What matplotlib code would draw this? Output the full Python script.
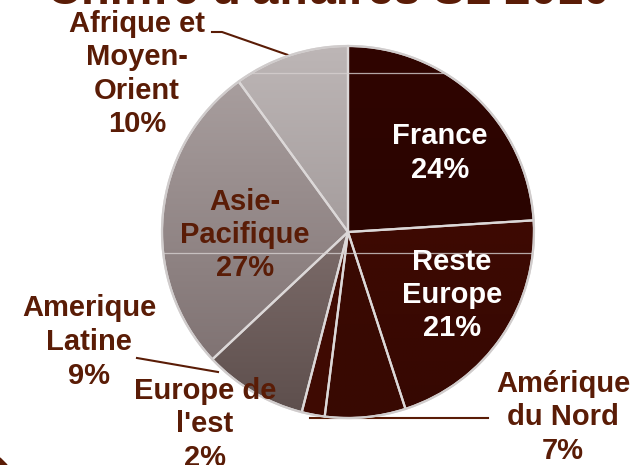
import numpy as np
import matplotlib
matplotlib.use("Agg")
import matplotlib.pyplot as plt
from matplotlib.colors import to_rgb

plt.rcParams['font.family'] = ['Liberation Sans', 'DejaVu Sans']

# Données : répartition du chiffre d'affaires par zone
zones = ["France", "Reste\nEurope", "Amérique\ndu Nord", "Europe de\nl'est",
         "Amerique\nLatine", "Asie-\nPacifique", "Afrique et\nMoyen-\nOrient"]
parts = [24, 21, 7, 2, 9, 27, 10]
titre = "Chiffre d'affaires S1 2010"

# couleurs (haut, bas) pour le dégradé vertical de chaque part
couleurs = [("#300500", "#2a0400"), ("#3e0a02", "#360802"), ("#3a0a02", "#380902"),
            ("#420c03", "#3e0a02"), ("#7c6c6a", "#5e4f4d"), ("#a89e9e", "#807373"),
            ("#bdb6b6", "#a59d9d")]
brun = "#5a1c06"

W, H = 635, 465
fig = plt.figure(figsize=(W / 100, H / 100), dpi=100)
ax = fig.add_axes([0, 0, 1, 1])

cx, cy, r = 348, H - 232, 186
wedges, _ = ax.pie(parts, startangle=90, counterclock=False, center=(cx, cy), radius=r,
                   frame=True,
                   wedgeprops=dict(edgecolor="#dcd8d8", linewidth=1.6))

# dégradé vertical dans chaque part
for w, (haut, bas) in zip(wedges, couleurs):
    ext = w.get_path().get_extents()
    t = np.linspace(0, 1, 128)[:, None, None]
    img = (1 - t) * np.array(to_rgb(haut)) + t * np.array(to_rgb(bas))
    im = ax.imshow(img, extent=(ext.x0, ext.x1, ext.y0, ext.y1), origin='upper',
                   aspect='auto', zorder=w.get_zorder(), interpolation='bilinear')
    im.set_clip_path(w)
    w.set_zorder(w.get_zorder() + 0.1)
    w.set_facecolor('none')

# bord extérieur gris clair
cercle = plt.Circle((cx, cy), r, fill=False, edgecolor="#d0cccc", linewidth=1.5, zorder=3)
ax.add_patch(cercle)

# traits clairs horizontaux visibles sur le disque
for yy in (H - 73, H - 253):
    ln, = ax.plot([cx - r, cx + r], [yy, yy], color="#d6d0d0", linewidth=0.9,
                  alpha=0.8, zorder=2.5)
    ln.set_clip_path(cercle)

# étiquettes
fs = 21
props = dict(fontsize=fs, fontweight='bold', ha='center', va='center', linespacing=1.25)
ax.text(440, H - 153, "France\n24%", color='white', **props)
ax.text(452, H - 295, "Reste\nEurope\n21%", color='white', **props)
ax.text(245, H - 235, "Asie-\nPacifique\n27%", color=brun, **props)
ax.text(137, H - 74, "Afrique et\nMoyen-\nOrient\n10%", color=brun, **props)
ax.text(89, H - 342, "Amerique\nLatine\n9%", color=brun, **props)
ax.text(205, H - 424, "Europe de\nl'est\n2%", color=brun, **props)
ax.text(563, H - 417, "Amérique\ndu Nord\n7%", color=brun, **props)

# lignes de rappel
lc = dict(color=brun, linewidth=1.5, zorder=1)
ax.plot([212, 222, 288], [H - 32, H - 32, H - 55], **lc)
ax.plot([137, 218], [H - 358, H - 372], **lc)
ax.plot([310, 488], [H - 418, H - 418], **lc)

# titre coupé en haut de l'image
ax.text(328, H - 4, titre, fontsize=34, fontweight='bold', color=brun,
        ha='center', va='baseline')

# coin du cadre en bas à gauche
ax.fill([0, 0, 7], [0, 7, 0], color=brun, zorder=1)

ax.set_xlim(0, W)
ax.set_ylim(0, H)
ax.set_aspect('auto')
ax.axis('off')

fig.savefig("out.png", dpi=100)
